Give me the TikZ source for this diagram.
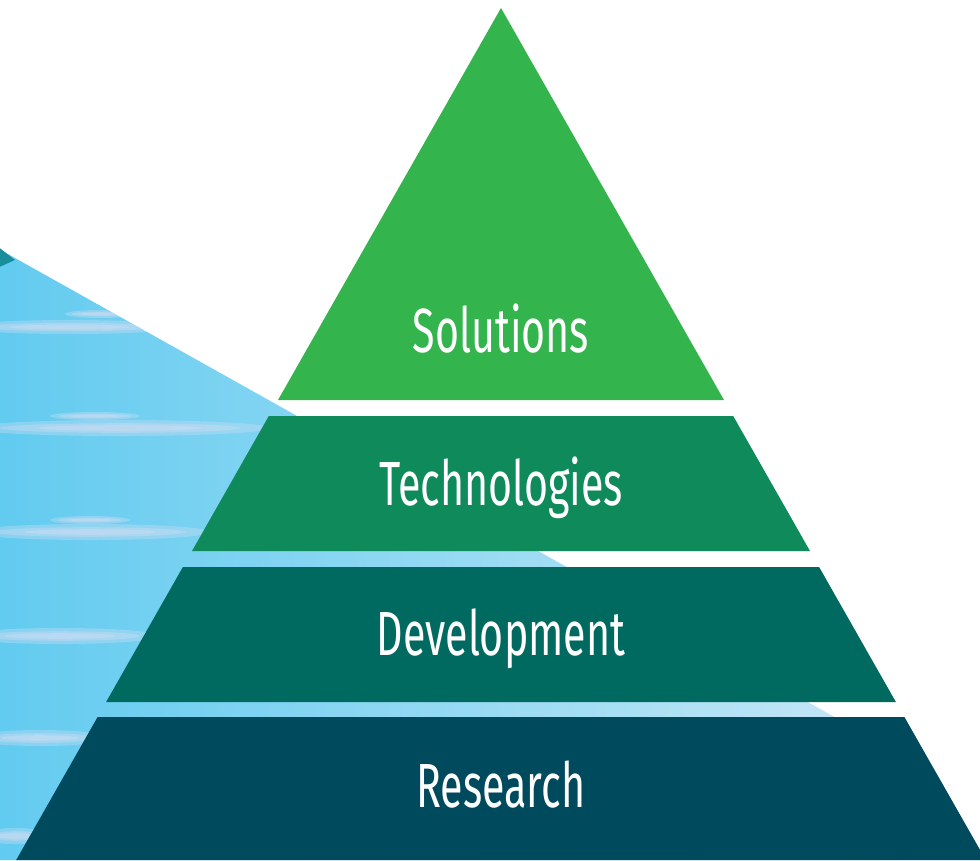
\documentclass[tikz,border=0pt]{standalone}
\usepackage{fontspec}
\setmainfont{Fira Sans}[FakeStretch=0.66]
\usepackage{tikz}

\definecolor{solgreen}{RGB}{52,180,76}
\definecolor{techgreen}{RGB}{15,138,90}
\definecolor{devteal}{RGB}{0,106,96}
\definecolor{respetrol}{RGB}{0,74,94}
\definecolor{skyleft}{RGB}{98,203,240}
\definecolor{skyright}{RGB}{200,232,246}
\definecolor{cornerteal}{RGB}{24,142,155}
\definecolor{haze}{RGB}{226,224,244}

\begin{document}
\begin{tikzpicture}[x=0.02cm,y=-0.02cm,
    layertext/.style={text=white,font=\fontsize{35.5}{40}\selectfont,anchor=base,inner sep=0pt},
    streak/.style={haze,opacity=0.3}]
    \pgfmathsetmacro{\ax}{501}
    \pgfmathsetmacro{\ay}{8}
    \useasboundingbox (0,0) rectangle (980,860);
    \clip (0,0) rectangle (980,860);

    % Draw the sky behind the pyramid
    \shade [left color=skyleft,right color=skyright] (0,249.6) -- (900,753.6) -- (900,860) -- (0,860) -- cycle;
    \fill [cornerteal] (0,248.3) -- (15,260) -- (0,266.7) -- cycle;
    \begin{scope}
        \clip (0,249.6) -- (900,753.6) -- (900,860) -- (0,860) -- cycle;
        \foreach \sx/\sy/\rx/\ry in {70/327/110/7, 100/314/35/4, 120/428/150/8, 95/416/45/4,
            90/532/120/8, 90/520/40/4, 60/636/100/8, 40/738/70/8, 15/836/35/8} {
            \fill [streak] (\sx,\sy) ellipse [x radius=\rx, y radius=\ry];
            \fill [streak] (\sx,\sy) ellipse [x radius=0.8*\rx, y radius=0.6*\ry];
            \fill [streak] (\sx,\sy) ellipse [x radius=0.55*\rx, y radius=0.35*\ry];
        }
    \end{scope}

    % Draw the four layers
    \fill [solgreen] (\ax,\ay) -- (724,400) -- (278,400) -- cycle;
    \fill [techgreen] (268.8,416) -- (733.2,416) -- (810,551) -- (192,551) -- cycle;
    \fill [devteal] (182.9,567) -- (819.1,567) -- (895.9,702) -- (106.1,702) -- cycle;
    \fill [respetrol] (97.6,717) -- (904.4,717) -- (985.8,860) -- (16.2,860) -- cycle;

    % Labels
    \node [layertext] (solutions) at (\ax,352) {Solutions};
    \node [layertext] (technologies) at (\ax,505) {Technologies};
    \node [layertext] (development) at (\ax,655) {Development};
    \node [layertext] (research) at (\ax,807) {Research};
\end{tikzpicture}
\end{document}
